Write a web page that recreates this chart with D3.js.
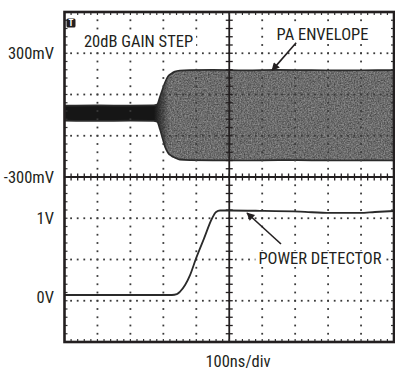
<!DOCTYPE html>
<html>
<head>
<meta charset="utf-8">
<script src="https://cdn.jsdelivr.net/npm/d3@7"></script>
<style>
  html, body { margin: 0; padding: 0; background: #fff; }
  svg { display: block; }
  text { font-family: "Liberation Sans Narrow", "Arial Narrow", "Roboto Condensed", "Liberation Sans", sans-serif; font-stretch: condensed; fill: #231f20; }
</style>
</head>
<body>
<svg id="chart" width="395" height="373"></svg>
<script>
// --- data read from the scope shot (time in ns, 100ns/div) ---
// PA envelope: upper and lower edge, mV
var envTime  = [0, 100, 200, 270, 281, 290, 298, 305, 314, 325, 335, 350, 380, 450, 550, 650, 750, 850, 950, 1000];
var envUpper = [46, 47, 46, 47, 51, 90, 128, 158, 187, 202, 211, 216, 218, 219, 217, 219, 218, 217, 218, 218];
var envLower = [-27, -28, -27, -28, -32, -70, -115, -153, -182, -198, -206, -216, -218, -219, -220, -218, -219, -220, -219, -220];

// power detector output, V
var detTime = [0, 326, 341, 350, 366, 381, 399, 423, 448, 460, 472, 502, 593, 715, 806, 897, 942, 1000];
var detVolt = [0.07, 0.07, 0.08, 0.107, 0.19, 0.31, 0.51, 0.75, 1.0, 1.076, 1.094, 1.094, 1.09, 1.08, 1.064, 1.064, 1.076, 1.088];

var envTicks = [300, -300];
var envTickLabels = ["300mV", "-300mV"];
var detTicks = [1, 0];
var detTickLabels = ["1V", "0V"];

var svg = d3.select("#chart");

// screen divisions: 10 x 8
var gx = d3.scaleLinear().domain([0, 10]).range([64.5, 394]);
var gy = d3.scaleLinear().domain([0, 8]).range([12, 342]);

var x = d3.scaleLinear().domain([0, 1000]).range([gx(0), gx(10)]);
var yEnv = d3.scaleLinear().domain([-300, 300]).range([gy(4), gy(1)]);  // 200mV/div
var yDet = d3.scaleLinear().domain([0, 1]).range([gy(7), gy(5)]);       // 0.5V/div

var defs = svg.append("defs");

// grain for the RF envelope
var grain = defs.append("filter").attr("id", "grain")
	.attr("x", 0).attr("y", 0).attr("width", 1).attr("height", 1)
	.attr("color-interpolation-filters", "sRGB");
grain.append("feTurbulence").attr("type", "fractalNoise")
	.attr("baseFrequency", 0.7).attr("numOctaves", 2).attr("seed", 4).attr("result", "n");
grain.append("feColorMatrix").attr("in", "n").attr("type", "matrix")
	.attr("values", "0.45 0 0 0 0.2  0.45 0 0 0 0.2  0.45 0 0 0 0.2  0 0 0 0 1")
	.attr("result", "g");
grain.append("feComposite").attr("in", "g").attr("in2", "SourceGraphic").attr("operator", "in");

// dark dense band before the gain step
var dark = defs.append("linearGradient").attr("id", "darkband")
	.attr("gradientUnits", "userSpaceOnUse")
	.attr("x1", x(272)).attr("x2", x(318)).attr("y1", 0).attr("y2", 0);
dark.append("stop").attr("offset", 0).attr("stop-color", "#161616").attr("stop-opacity", 1);
dark.append("stop").attr("offset", 1).attr("stop-color", "#161616").attr("stop-opacity", 0);

defs.append("marker").attr("id", "head")
	.attr("viewBox", "0 0 10 10").attr("refX", 9).attr("refY", 5)
	.attr("markerWidth", 11).attr("markerHeight", 8).attr("markerUnits", "userSpaceOnUse")
	.attr("orient", "auto")
	.append("path").attr("d", "M0,0L10,5L0,10z").attr("fill", "#231f20");

var envData = envTime.map(function(t, i) { return {t: t, hi: envUpper[i], lo: envLower[i]}; });

var area = d3.area()
	.x(function(d) { return x(d.t); })
	.y0(function(d) { return yEnv(d.lo); })
	.y1(function(d) { return yEnv(d.hi); })
	.curve(d3.curveMonotoneX);

svg.append("path").datum(envData).attr("d", area).attr("fill", "#666").attr("filter", "url(#grain)");
svg.append("path").datum(envData).attr("d", area).attr("fill", "url(#darkband)");

var edgeHi = d3.line().x(function(d) { return x(d.t); }).y(function(d) { return yEnv(d.hi); }).curve(d3.curveMonotoneX);
var edgeLo = d3.line().x(function(d) { return x(d.t); }).y(function(d) { return yEnv(d.lo); }).curve(d3.curveMonotoneX);
svg.append("path").datum(envData).attr("d", edgeHi).attr("fill", "none").attr("stroke", "#2a2a2a").attr("stroke-width", 1.7);
svg.append("path").datum(envData).attr("d", edgeLo).attr("fill", "none").attr("stroke", "#2a2a2a").attr("stroke-width", 1.7);

// --- graticule ---
var grid = svg.append("g").attr("fill", "#3a3a3a");
var hDots = [], vDots = [];
[1, 2, 3, 5, 6, 7].forEach(function(k) {
	for (var j = 1; j < 50; j++) hDots.push({x: gx(j / 5), y: gy(k)});
});
[1, 2, 3, 4, 6, 7, 8, 9].forEach(function(k) {
	for (var j = 1; j < 40; j++) vDots.push({x: gx(k), y: gy(j / 5)});
});
grid.selectAll("rect.hd").data(hDots.concat(vDots)).enter().append("rect")
	.attr("x", function(d) { return d.x - 0.9; })
	.attr("y", function(d) { return d.y - 0.9; })
	.attr("width", 1.8).attr("height", 1.8);

// centre axes with minor ticks
var axes = svg.append("g").attr("stroke", "#231f20");
axes.append("line").attr("x1", gx(0)).attr("x2", gx(10)).attr("y1", gy(4)).attr("y2", gy(4)).attr("stroke-width", 1.8);
axes.append("line").attr("x1", gx(5)).attr("x2", gx(5)).attr("y1", gy(0)).attr("y2", gy(8)).attr("stroke-width", 1.8);
axes.selectAll("line.tx").data(d3.range(1, 50)).enter().append("line")
	.attr("x1", function(j) { return gx(j / 5); }).attr("x2", function(j) { return gx(j / 5); })
	.attr("y1", gy(4) - 3.5).attr("y2", gy(4) + 3.5).attr("stroke-width", 1.3);
axes.selectAll("line.ty").data(d3.range(1, 40)).enter().append("line")
	.attr("y1", function(j) { return gy(j / 5); }).attr("y2", function(j) { return gy(j / 5); })
	.attr("x1", gx(5) - 3.5).attr("x2", gx(5) + 3.5).attr("stroke-width", 1.3);

// frame edge ticks
var edge = svg.append("g").attr("stroke", "#333").attr("stroke-width", 1.2);
d3.range(1, 50).forEach(function(j) {
	edge.append("line").attr("x1", gx(j / 5)).attr("x2", gx(j / 5)).attr("y1", gy(0)).attr("y2", gy(0) + 3);
	edge.append("line").attr("x1", gx(j / 5)).attr("x2", gx(j / 5)).attr("y1", gy(8)).attr("y2", gy(8) - 3);
});
d3.range(1, 40).forEach(function(j) {
	edge.append("line").attr("y1", gy(j / 5)).attr("y2", gy(j / 5)).attr("x1", gx(0)).attr("x2", gx(0) + 3);
	edge.append("line").attr("y1", gy(j / 5)).attr("y2", gy(j / 5)).attr("x1", gx(10)).attr("x2", gx(10) - 3);
});

// --- power detector trace ---
var detData = detTime.map(function(t, i) { return {t: t, v: detVolt[i]}; });
svg.append("path").datum(detData)
	.attr("d", d3.line().x(function(d) { return x(d.t); }).y(function(d) { return yDet(d.v); }).curve(d3.curveMonotoneX))
	.attr("fill", "none").attr("stroke", "#2a2a2a").attr("stroke-width", 1.8);

// frame
svg.append("rect").attr("x", gx(0)).attr("y", gy(0)).attr("width", gx(10) - gx(0)).attr("height", gy(8) - gy(0))
	.attr("fill", "none").attr("stroke", "#231f20").attr("stroke-width", 2.6);

// trigger marker
svg.append("rect").attr("x", gx(0) + 2).attr("y", gy(0) + 6.5).attr("width", 9).attr("height", 9).attr("rx", 1.5).attr("fill", "#231f20");
svg.append("text").attr("x", gx(0) + 6.5).attr("y", gy(0) + 14).attr("text-anchor", "middle")
	.style("font-size", "9px").style("font-weight", "bold").style("fill", "#fff").text("T");

// --- tick labels ---
var fs = "16.5px";
svg.selectAll("text.ye").data(envTicks).enter().append("text")
	.attr("x", 54).attr("y", function(d) { return yEnv(d); }).attr("dy", "0.35em")
	.attr("text-anchor", "end").style("font-size", fs)
	.text(function(d, i) { return envTickLabels[i]; });
svg.selectAll("text.yd").data(detTicks).enter().append("text")
	.attr("x", 54).attr("y", function(d) { return yDet(d); }).attr("dy", function(d) { return d === 0 ? "0.15em" : "0.35em"; })
	.attr("text-anchor", "end").style("font-size", fs)
	.text(function(d, i) { return detTickLabels[i]; });

svg.append("text").attr("x", 238).attr("y", 367).attr("text-anchor", "middle").style("font-size", fs).text("100ns/div");

// --- annotations ---
function label(txt, cx, base, bg) {
	var t = svg.append("text").attr("x", cx).attr("y", base).attr("text-anchor", "middle").style("font-size", fs).text(txt);
	if (bg) {
		var b = t.node().getBBox();
		svg.insert("rect", function() { return t.node(); })
			.attr("x", b.x - 3).attr("y", b.y + 2).attr("width", b.width + 6).attr("height", b.height - 3).attr("fill", "#fff");
	}
	return t;
}
label("20dB GAIN STEP", 138.5, 46.5, true);
label("PA ENVELOPE", 322.5, 40, true);
label("POWER DETECTOR", 320, 264, true);

svg.append("line").attr("x1", x(703)).attr("y1", yEnv(351)).attr("x2", x(630)).attr("y2", yEnv(217))
	.attr("stroke", "#231f20").attr("stroke-width", 1.6).attr("marker-end", "url(#head)");
svg.append("line").attr("x1", x(657)).attr("y1", yDet(0.688)).attr("x2", x(554)).attr("y2", yDet(1.064))
	.attr("stroke", "#231f20").attr("stroke-width", 1.6).attr("marker-end", "url(#head)");
</script>
</body>
</html>
